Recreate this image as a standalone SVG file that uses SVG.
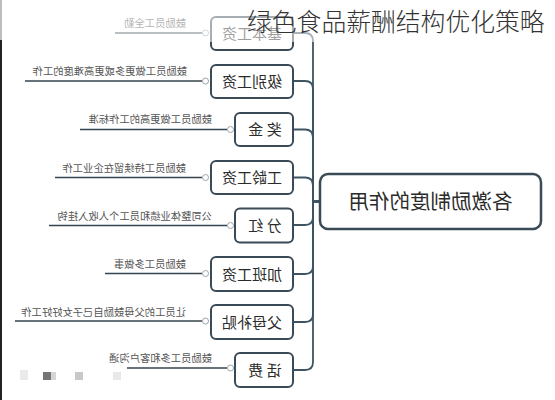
<svg xmlns="http://www.w3.org/2000/svg" width="555" height="400" viewBox="0 0 555 400">
  <defs>
    <style>
      .node rect { fill: #ffffff; stroke: #3a4b57; stroke-width: 2; }
      .nt { font-family: "Noto Sans CJK SC", "Liberation Sans", sans-serif; font-size: 15px; fill: #2b2b2b; text-anchor: middle; }
      .lbl { font-family: "Noto Sans CJK SC", "Liberation Sans", sans-serif; font-size: 10.3px; fill: #555555; text-anchor: start; }
      .conn path { fill: none; stroke: #3d5464; stroke-width: 1.8; }
      .leaf line { stroke: #34434d; stroke-width: 1.5; }
      .leaf circle { fill: #ffffff; stroke: #9aa4aa; stroke-width: 1; }
    </style>
  </defs>
  <rect x="0" y="0" width="555" height="400" fill="#ffffff"/>

  <!-- connectors -->
  <g id="connectors" class="conn">
    <path d="M320 201.5 H313 V41 Q313 33 305 33 H293"/>
    <path d="M320 201.5 H313 V89 Q313 81 305 81 H293"/>
    <path d="M320 201.5 H313 V137.5 Q313 129.5 305 129.5 H293"/>
    <path d="M320 201.5 H313 V185.5 Q313 177.5 305 177.5 H293"/>
    <path d="M320 201.5 H313 V217 Q313 225 305 225 H293"/>
    <path d="M320 201.5 H313 V266 Q313 274 305 274 H293"/>
    <path d="M320 201.5 H313 V314 Q313 322 305 322 H293"/>
    <path d="M320 201.5 H313 V362 Q313 370 305 370 H293"/>
  </g>

  <!-- leaf lines with labels -->
  <g id="leaves" class="leaf">
    <line x1="115" y1="33" x2="202" y2="33"/><circle cx="205.5" cy="33" r="3"/>
    <line x1="25" y1="81" x2="202" y2="81"/><circle cx="205.5" cy="81" r="3"/>
    <line x1="80" y1="129.5" x2="227" y2="129.5"/><circle cx="230.5" cy="129.5" r="3"/>
    <line x1="55" y1="177.5" x2="202" y2="177.5"/><circle cx="205.5" cy="177.5" r="3"/>
    <line x1="49" y1="225.5" x2="227" y2="225.5"/><circle cx="230.5" cy="225.5" r="3"/>
    <line x1="105" y1="273.5" x2="202" y2="273.5"/><circle cx="205.5" cy="273.5" r="3"/>
    <line x1="15" y1="321" x2="202" y2="321"/><circle cx="205.5" cy="321" r="3"/>
    <line x1="127" y1="368" x2="227" y2="368"/><circle cx="230.5" cy="368" r="3"/>
  </g>
  <g id="labels">
    <text class="lbl" transform="translate(186 27) scale(-1 1)">鼓励员工全勤</text>
    <text class="lbl" transform="translate(187 75) scale(-1 1)">鼓励员工做更多或更高难度的工作</text>
    <text class="lbl" transform="translate(212 123) scale(-1 1)">鼓励员工做更高的工作标准</text>
    <text class="lbl" transform="translate(186 172) scale(-1 1)">鼓励员工持续留在企业工作</text>
    <text class="lbl" transform="translate(212 220) scale(-1 1)">公司整体业绩和员工个人收入挂钩</text>
    <text class="lbl" transform="translate(186 268) scale(-1 1)">鼓励员工多做事</text>
    <text class="lbl" transform="translate(186 316) scale(-1 1)">让员工的父母鼓励自己子女好好工作</text>
    <text class="lbl" transform="translate(212 362) scale(-1 1)">鼓励员工多和客户沟通</text>
  </g>

  <!-- nodes -->
  <g id="n1" class="node"><rect x="211" y="17" width="82" height="33" rx="5"/><text class="nt" transform="translate(252 38.5) scale(-1 1)">基本工资</text></g>
  <g id="n2" class="node"><rect x="211" y="65" width="82" height="33" rx="5"/><text class="nt" transform="translate(252 86.5) scale(-1 1)">级别工资</text></g>
  <g id="n3" class="node"><rect x="235" y="113" width="58" height="33" rx="5"/><text class="nt" transform="translate(265 135) scale(-1 1)">奖 金</text></g>
  <g id="n4" class="node"><rect x="211" y="161" width="82" height="33" rx="5"/><text class="nt" transform="translate(252 183) scale(-1 1)">工龄工资</text></g>
  <g id="n5" class="node"><rect x="235" y="208.5" width="58" height="34" rx="5"/><text class="nt" transform="translate(265 231) scale(-1 1)">分 红</text></g>
  <g id="n6" class="node"><rect x="211" y="257" width="82" height="34" rx="5"/><text class="nt" transform="translate(252 279.5) scale(-1 1)">加班工资</text></g>
  <g id="n7" class="node"><rect x="211" y="305" width="82" height="34" rx="5"/><text class="nt" transform="translate(252 327.5) scale(-1 1)">父母补贴</text></g>
  <g id="n8" class="node"><rect x="235" y="353" width="58" height="34" rx="5"/><text class="nt" transform="translate(265 375.5) scale(-1 1)">话 费</text></g>

  <g id="center" class="node">
    <rect x="320" y="174" width="221" height="55" rx="8" style="stroke-width:2.5"/>
    <text class="nt" style="font-size:20.5px" transform="translate(430.5 209) scale(-1 1)">各激励制度的作用</text>
  </g>

  <!-- top fade -->
  <rect x="0" y="0" width="555" height="42" fill="#ffffff" opacity="0.55"/>
  <!-- left edge strip -->
  <rect x="0" y="0" width="2" height="40" fill="#bdbdbd"/>
  <rect x="0" y="40" width="2" height="360" fill="#222222"/>

  <!-- faint watermark marks bottom left -->
  <g id="marks" opacity="0.8">
    <rect x="20" y="370" width="8" height="10" fill="#e6e6e6"/>
    <rect x="43" y="372" width="8" height="8" fill="#555555"/>
    <rect x="51" y="372" width="5" height="8" fill="#cccccc"/>
    <rect x="75" y="372" width="8" height="8" fill="#bbbbbb"/>
    <rect x="113" y="372" width="8" height="8" fill="#e3e3e3"/>
  </g>

  <text id="title" x="247" y="31" font-family="Noto Sans CJK SC, Liberation Sans, sans-serif" font-size="24.8" font-weight="300" fill="#333333">绿色食品薪酬结构优化策略</text>
</svg>
